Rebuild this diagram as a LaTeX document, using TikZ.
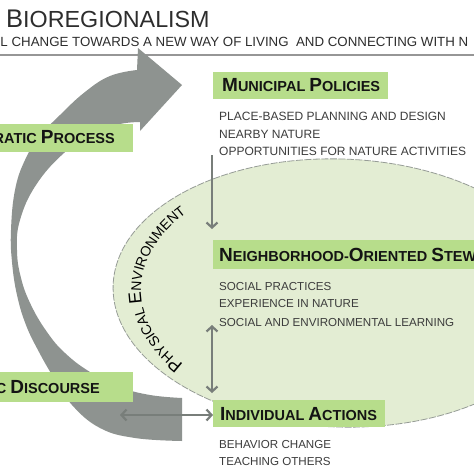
\documentclass[tikz,border=0pt]{standalone}
\usepackage{fontspec}
\setmainfont{Liberation Sans}
\usetikzlibrary{arrows.meta,decorations.text}
\definecolor{arrowgrey}{RGB}{142,147,144}
\definecolor{boxgreen}{RGB}{183,221,139}
\definecolor{envgreen}{RGB}{227,237,211}
\definecolor{envline}{RGB}{150,156,150}
\definecolor{linkgrey}{RGB}{120,126,122}
\definecolor{titlegrey}{RGB}{45,45,45}
\definecolor{listgrey}{RGB}{60,60,60}
\definecolor{rulegrey}{RGB}{150,150,150}
\newcommand{\capB}[1]{{\fontsize{19}{19}\selectfont #1}}
\newcommand{\peBig}{\fontsize{18}{18}\selectfont}
\newcommand{\peSmall}{\fontsize{14}{14}\selectfont}
\begin{document}
\begin{tikzpicture}[x=1pt,y=-1pt,
  gbox/.style={fill=boxgreen, draw=none, inner sep=0pt, anchor=north west},
  boxtext/.style={font=\fontsize{14.5}{14.5}\selectfont\bfseries, text=black!92, inner sep=0pt, anchor=base west},
  listtext/.style={font=\fontsize{11.6}{13}\selectfont, text=listgrey, inner sep=0pt, anchor=base west},
  link/.style={draw=linkgrey, line width=2.2pt, -{Straight Barb[length=5pt,width=11pt]}},
  dlink/.style={draw=linkgrey, line width=2.2pt, {Straight Barb[length=5pt,width=11pt]}-{Straight Barb[length=5pt,width=11pt]}}]
\useasboundingbox (0,0) rectangle (474,474);
\fill[white] (0,0) rectangle (474,474);

% title and subtitle
\node[inner sep=0pt, anchor=base west, text=titlegrey] (title) at (6,27)
  {{\fontsize{25.5}{25}\selectfont B}{\fontsize{23.3}{23}\selectfont IOREGIONALISM}};
\node[inner sep=0pt, anchor=base west, text=titlegrey, font=\fontsize{13.3}{14}\selectfont] (subtitle) at (0.3,46.5)
  {L CHANGE TOWARDS A NEW WAY OF LIVING\ \ AND CONNECTING WITH N};
\coordinate (r1) at (0,55);
\coordinate (r2) at (474,55);
\draw[rulegrey, line width=1.3pt] (r1) -- (r2);

% physical environment
\draw[fill=envgreen, draw=envline, line width=0.8pt, dash pattern=on 7pt off 1.5pt,
      rotate around={-2:(340,293)}] (340,293) ellipse [x radius=227, y radius=134];

% big curved arrow
\fill[arrowgrey] (182,441) -- (182,398)
  -- plot[smooth, tension=0.7] coordinates {(182,398) (150,395) (120,387) (90,372) (65,353) (47,332) (31,305) (21,278) (17,250) (20,220) (36,185) (64,153) (95,132) (120,124) (140,122)}
  -- (140,131) -- (182,85) -- (138,48) -- (137,70)
  -- plot[smooth, tension=0.7] coordinates {(137,70) (110,76) (85,92) (60,115) (40,136) (25,160) (15,190) (11,230) (12,262) (17,295) (26,325) (39,352) (54,378) (72,405) (100,428) (135,438) (182,441)}
  -- cycle;

% boxes
\node[gbox, minimum width=175pt, minimum height=27pt] (mun) at (213,72) {};
\node[boxtext] (muntxt) at (222,91) {\capB{M}UNICIPAL \capB{P}OLICIES};
\node[gbox, minimum width=261pt, minimum height=29pt] (nei) at (213,240) {};
\node[boxtext] (neitxt) at (219,261.5) {\capB{N}EIGHBORHOOD-\capB{O}RIENTED \capB{S}TEW};
\node[gbox, minimum width=172pt, minimum height=27pt] (ind) at (213,400) {};
\node[boxtext] (indtxt) at (220,420) {\capB{I}NDIVIDUAL \capB{A}CTIONS};
\node[gbox, minimum width=133pt, minimum height=28pt] (dem) at (0,124) {};
\node[boxtext, anchor=base east] (demtxt) at (115,143) {RATIC \capB{P}ROCESS};
\node[gbox, minimum width=133pt, minimum height=30pt] (dis) at (0,372) {};
\node[boxtext, anchor=base east] (distxt) at (100,393) {C \capB{D}ISCOURSE};

% lists
\node[listtext, font=\fontsize{12}{13}\selectfont] (m1) at (219,120) {PLACE-BASED PLANNING AND DESIGN};
\node[listtext, font=\fontsize{12}{13}\selectfont] (m2) at (219,138.5) {NEARBY NATURE};
\node[listtext, font=\fontsize{12}{13}\selectfont] (m3) at (219,155.6) {OPPORTUNITIES FOR NATURE ACTIVITIES};
\node[listtext] (n1) at (219,290) {SOCIAL PRACTICES};
\node[listtext] (n2) at (219,307.7) {EXPERIENCE IN NATURE};
\node[listtext] (n3) at (219,326.7) {SOCIAL AND ENVIRONMENTAL LEARNING};
\node[listtext] (i1) at (219,448.3) {BEHAVIOR CHANGE};
\node[listtext] (i2) at (219,465) {TEACHING OTHERS};

% connectors
\coordinate (d1) at (212,155);
\coordinate (d2) at (212,229);
\draw[link] (d1) -- (d2);
\coordinate (v1) at (212,325);
\coordinate (v2) at (212,393);
\draw[dlink] (v1) -- (v2);
\coordinate (h1) at (120,415);
\draw[dlink] (h1) -- (h1 -| ind.west);

% curved label
\path[decorate, decoration={text along path, text align=center,
  text={|\peBig|P|\peSmall|HYSICAL |\peBig|E|\peSmall|NVIRONMENT}}]
  (193.5,371.9) arc[start angle=137.4, end angle=223.9, x radius=199, y radius=121];
\end{tikzpicture}
\end{document}
